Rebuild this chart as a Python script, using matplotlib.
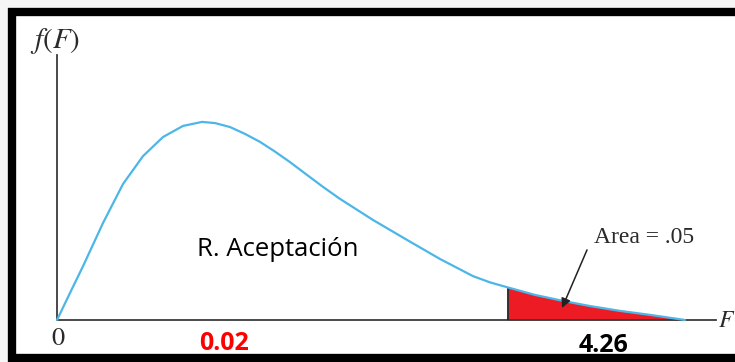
import matplotlib
matplotlib.use("Agg")
import matplotlib.pyplot as plt
from matplotlib.patches import Rectangle

plt.rcParams['mathtext.fontset'] = 'stix'

# Curve values (F, density)
F_vals = [0.0, 0.123, 0.246, 0.434, 0.623, 0.812, 1.001, 1.190, 1.369, 1.492,
          1.634, 1.775, 1.917, 2.058, 2.200, 2.361, 2.512, 2.672, 2.984, 3.305,
          3.617, 3.928, 4.089, 4.26, 4.514, 4.778, 5.033, 5.316, 5.600, 5.930]
dens_vals = [0.0, 0.095, 0.189, 0.340, 0.477, 0.575, 0.642, 0.681, 0.695, 0.691,
             0.677, 0.653, 0.625, 0.591, 0.554, 0.509, 0.467, 0.425, 0.351, 0.281,
             0.214, 0.154, 0.132, 0.114, 0.088, 0.067, 0.049, 0.032, 0.018, 0.0]
F_crit = 4.26
label_left = "0.02"
label_crit = "4.26"
area_label = "Area = .05"
region_label = "R. Aceptación"

fig = plt.figure(figsize=(7.35, 3.62), dpi=100, facecolor='#f6f6f6')
ax = fig.add_axes([0, 0, 1, 1])
ax.set_facecolor('none')

# pixel mapping: px = 57 + F*105.9 ; py = 320 - d*285
ax.set_xlim(-57 / 105.9, 678 / 105.9)
ax.set_ylim(-42 / 285, 320 / 285)

# white background inside border + border
ax.add_patch(Rectangle((11.5 / 735, (362 - 357.5) / 362), (760 - 11.5) / 735,
                       (357.5 - 11.5) / 362, transform=fig.transFigure,
                       facecolor='white', edgecolor='black', linewidth=6.0,
                       zorder=-5, clip_on=False))

# axes as spines
for s in ['top', 'right']:
    ax.spines[s].set_visible(False)
ax.spines['left'].set_position(('data', 0))
ax.spines['bottom'].set_position(('data', 0))
ax.spines['left'].set_bounds(0, (320 - 55) / 285)
ax.spines['bottom'].set_bounds(0, (716 - 57) / 105.9)
for s in ['left', 'bottom']:
    ax.spines[s].set_color('#3a3a3a')
    ax.spines[s].set_linewidth(1.3)
ax.set_xticks([])
ax.set_yticks([])

# red tail area
tail_F = [f for f in F_vals if f >= F_crit]
tail_d = [d for f, d in zip(F_vals, dens_vals) if f >= F_crit]
ax.fill_between(tail_F, tail_d, 0, color='#ed1c24', linewidth=0, zorder=2)
ax.vlines(F_crit, 0, tail_d[0], color='#222222', linewidth=1.3, zorder=3)

# density curve
ax.plot(F_vals, dens_vals, color='#4cb6e8', linewidth=1.6, zorder=4,
        solid_capstyle='round', solid_joinstyle='round')

# texts
dark = '#2a2a2a'
ax.text(-0.019, 0.979, r'$f(F)$', fontsize=21, color=dark, ha='center', va='center')
ax.text(0.005, -0.067, '0', fontsize=19, color=dark, ha='center', va='center',
        family='STIXGeneral')
ax.text(6.245, 0.0, r'$F$', fontsize=17, color=dark, ha='left', va='center')
ax.text(1.577, -0.081, label_left, fontsize=18, color='#ff0000', fontweight='bold',
        ha='center', va='center', family='Open Sans')
ax.text(5.156, -0.091, label_crit, fontsize=18, color='black', fontweight='bold',
        ha='center', va='center', family='Open Sans')
ax.text(2.087, 0.246, region_label, fontsize=18.5, color='black',
        ha='center', va='center', family='Open Sans')
ax.text(5.543, 0.291, area_label, fontsize=17, color=dark,
        ha='center', va='center', family='Liberation Serif')
ax.annotate('', xy=(4.769, 0.042), xytext=(5.005, 0.246),
            arrowprops=dict(arrowstyle='-|>', color='#222222', lw=1.1,
                            mutation_scale=14, shrinkA=0, shrinkB=0),
            zorder=5)

fig.savefig('out.png', dpi=100, facecolor=fig.get_facecolor())
